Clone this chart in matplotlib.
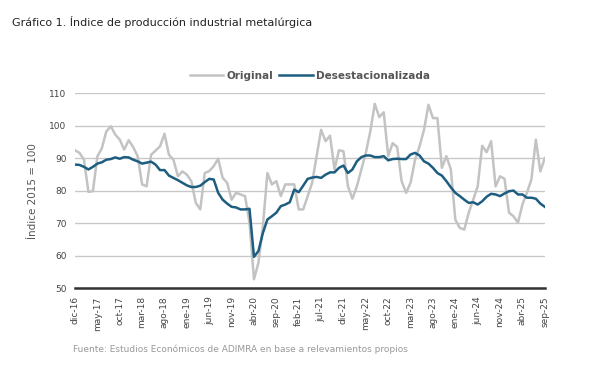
import matplotlib
matplotlib.use("Agg")
import matplotlib.pyplot as plt

months = ["ene", "feb", "mar", "abr", "may", "jun", "jul", "ago", "sep", "oct", "nov", "dic"]
# dic-16 .. sep-25
labels = ["dic-16"] + [m + "-" + str(y) for y in range(17, 26) for m in months][:105]

original = [92.4, 91.6, 89.5, 79.6, 79.8, 90.5, 93.0, 98.2, 99.8, 97.2,
            95.7, 92.6, 95.5, 93.4, 90.6, 81.9, 81.3, 91.0, 92.3, 93.6,
            97.5, 91.0, 89.5, 84.4, 85.9, 84.9, 82.9, 76.2, 74.2, 85.4,
            86.0, 87.5, 89.8, 83.9, 82.4, 77.2, 79.3, 78.8, 78.3, 70.1,
            52.7, 57.8, 69.1, 85.4, 81.9, 82.9, 78.3, 81.9, 81.9, 81.9,
            74.2, 74.2, 78.3, 82.4, 90.6, 98.7, 95.2, 96.9, 86.5, 92.4,
            92.1, 81.3, 77.5, 81.3, 86.5, 91.6, 98.2, 106.7, 102.6, 104.1,
            90.6, 94.6, 93.4, 82.9, 79.3, 82.4, 89.5, 93.6, 98.7, 106.4,
            102.3, 102.3, 87.0, 90.6, 86.5, 71.1, 68.5, 68.0, 73.2, 77.2,
            81.3, 93.8, 91.8, 95.2, 81.3, 84.4, 83.6, 73.2, 72.1, 70.1,
            75.7, 79.3, 83.4, 95.7, 85.9, 90.0]

desest = [88.0, 87.9, 87.3, 86.5, 87.3, 88.3, 88.7, 89.5, 89.7, 90.2,
          89.8, 90.3, 90.2, 89.5, 89.0, 88.3, 88.6, 88.9, 88.0, 86.3,
          86.3, 84.6, 83.9, 83.2, 82.4, 81.6, 81.1, 81.1, 81.5, 82.6,
          83.6, 83.4, 79.3, 77.2, 76.0, 75.0, 74.8, 74.2, 74.2, 74.4,
          59.6, 61.4, 67.0, 71.1, 72.1, 73.2, 75.2, 75.7, 76.4, 80.3,
          79.5, 81.5, 83.6, 84.0, 84.2, 83.9, 84.9, 85.6, 85.6, 87.0,
          87.7, 85.4, 86.5, 89.0, 90.3, 90.8, 90.8, 90.3, 90.3, 90.6,
          89.3, 89.7, 89.8, 89.7, 89.7, 91.1, 91.6, 90.8, 89.0, 88.3,
          87.0, 85.4, 84.6, 82.9, 81.0, 79.3, 78.3, 77.2, 76.2, 76.4,
          75.7, 76.7, 78.1, 79.0, 78.8, 78.3, 79.1, 79.8, 80.0, 78.8,
          78.8, 77.8, 77.8, 77.5, 76.0, 75.0]

x = list(range(len(labels)))
narrow = ["Liberation Sans Narrow", "DejaVu Sans"]

fig = plt.figure(figsize=(6, 3.8), dpi=100)
ax = fig.add_axes([0.125, 0.242, 0.783, 0.513])

ax.plot(x, original, color="#c3c3c3", lw=1.8, label="Original")
ax.plot(x, desest, color="#1d5d80", lw=1.8, label="Desestacionalizada")

ax.set_xlim(0, 105)
ax.set_ylim(50, 110)
ax.set_yticks(range(50, 111, 10))
ax.yaxis.grid(True, color="#c8c8c8", lw=1)
ax.set_axisbelow(True)
ax.set_xticks(x[::5])
ax.set_xticklabels(labels[::5], rotation=90, fontsize=6.5, color="#444444", family=narrow)
for t in ax.get_yticklabels():
    t.set_fontsize(6.5)
    t.set_color("#444444")
    t.set_family(narrow)
ax.tick_params(length=0, pad=6)
for s in ["top", "right", "left"]:
    ax.spines[s].set_visible(False)
ax.spines["bottom"].set_color("#333333")
ax.spines["bottom"].set_linewidth(1.8)
ax.set_ylabel("Índice 2015 = 100", fontsize=7.5, color="#555555", family=narrow, labelpad=8)

ax.legend(loc="lower center", bbox_to_anchor=(0.5, 1.015), ncol=2, frameon=False,
          prop={"family": narrow, "size": 7.5, "weight": "bold"}, labelcolor="#555555",
          handlelength=3.2, columnspacing=0.6, handletextpad=0.3)

fig.text(0.02, 0.932, "Gráfico 1. Índice de producción industrial metalúrgica",
         fontsize=8, color="#222222")
fig.text(0.122, 0.075, "Fuente: Estudios Económicos de ADIMRA en base a relevamientos propios",
         fontsize=6.5, color="#999999")

fig.savefig("out.png", dpi=100)
